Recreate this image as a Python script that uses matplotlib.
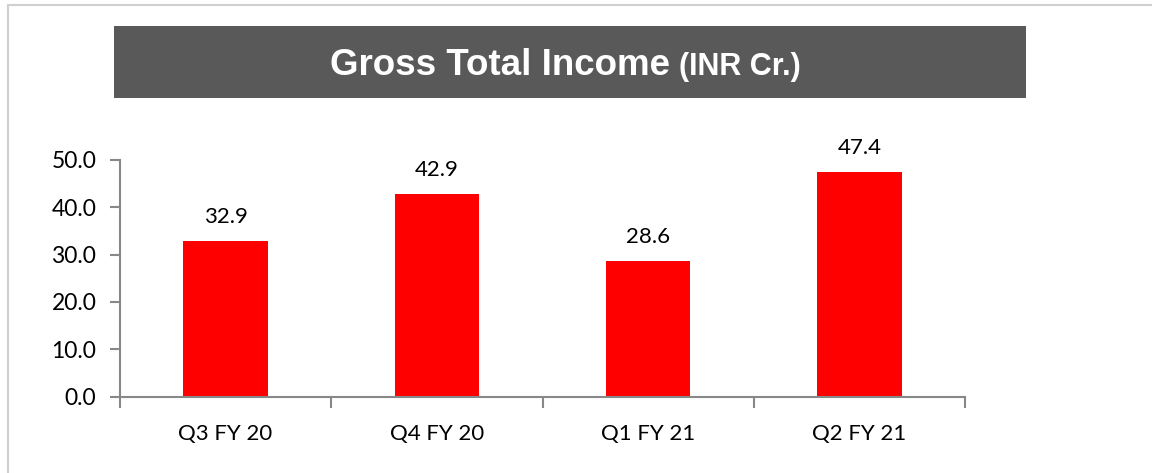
import matplotlib.pyplot as plt
from matplotlib.patches import Rectangle

quarters = ['Q3 FY 20', 'Q4 FY 20', 'Q1 FY 21', 'Q2 FY 21']
income = [32.9, 42.9, 28.6, 47.4]
yticks = [0, 10, 20, 30, 40, 50]

W, H = 1152, 473
fig = plt.figure(figsize=(W / 100, H / 100), dpi=100)

# light border (top and left only are visible in the crop)
fig.patches.append(Rectangle((8 / W, -0.2), 1.2, 0.2 + (H - 5) / H, transform=fig.transFigure,
                             fill=False, edgecolor='#d0d0d0', linewidth=1.5))

# dark title banner
fig.patches.append(Rectangle((114 / W, 1 - 98 / H), (1026 - 114) / W, (98 - 26) / H,
                             transform=fig.transFigure, facecolor='#595959', edgecolor='none'))
t1 = fig.text(330 / W, 1 - 75 / H, 'Gross Total Income', color='white', fontsize=26.5,
              fontweight='bold', family='Liberation Sans', va='baseline', ha='left')
fig.canvas.draw()
bb = t1.get_window_extent()
fig.text((bb.x1 + 9) / W, 1 - 75 / H, '(INR Cr.)', color='white', fontsize=22,
         fontweight='bold', family='Liberation Sans', va='baseline', ha='left')

ax = fig.add_axes([120 / W, 1 - 396.5 / H, (965 - 120) / W, (396.5 - 160) / H])
x = range(len(quarters))
bars = ax.bar(x, income, width=0.4, color='#ff0000')
for xi, v in zip(x, income):
    ax.annotate('%.1f' % v, (xi, v), xytext=(0, 10), textcoords='offset points',
                ha='center', va='bottom', fontsize=16, family='Lato')

ax.set_xlim(-0.5, len(quarters) - 0.5)
ax.set_ylim(0, 50)
ax.set_yticks(yticks)
ax.set_yticklabels(['%.1f' % t for t in yticks], family='Lato', fontsize=16.5)
ax.set_xticks(list(x))
ax.set_xticklabels(quarters, family='Lato', fontsize=16)
ax.set_xticks([i - 0.5 for i in range(len(quarters) + 1)], minor=True)
ax.tick_params(axis='x', which='major', length=0, pad=20)
ax.tick_params(axis='x', which='minor', length=8, color='#888888', width=1.5, direction='out')
ax.tick_params(axis='y', length=7, color='#888888', width=1.5, direction='out', pad=10)
for s in ['top', 'right']:
    ax.spines[s].set_visible(False)
for s in ['left', 'bottom']:
    ax.spines[s].set_color('#888888')
    ax.spines[s].set_linewidth(1.5)

fig.savefig('out.png', dpi=100)
